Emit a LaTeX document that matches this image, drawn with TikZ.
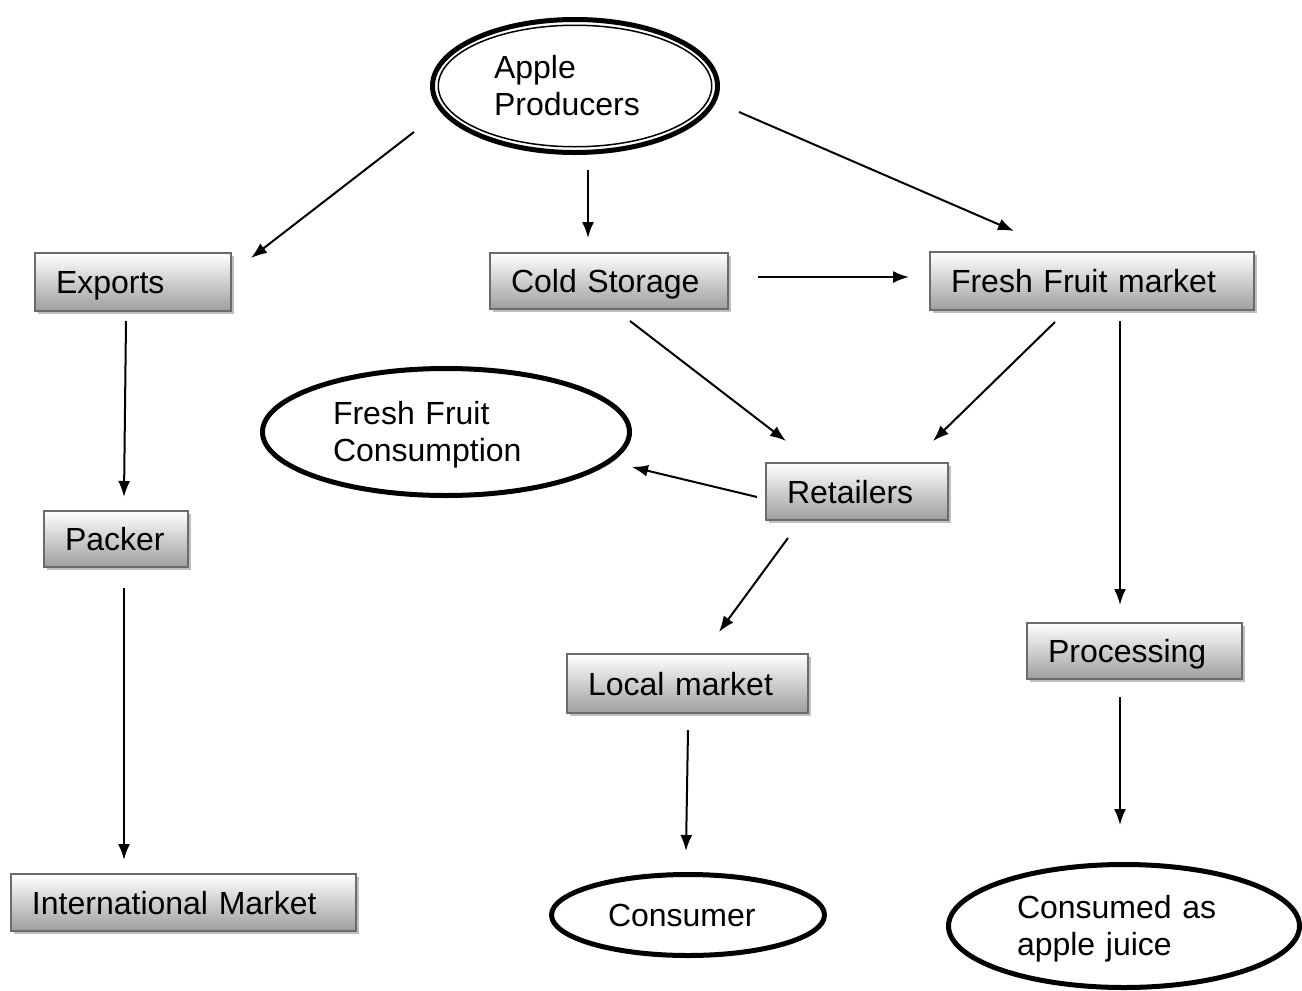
\documentclass[tikz,border=0pt]{standalone}
\usepackage{fontspec}
\setmainfont{Liberation Sans}
\usetikzlibrary{arrows.meta,shapes.geometric,shadows,calc}

\tikzset{
  stagebox/.style={
    rectangle, draw=black!58, line width=1pt,
    top color=white, bottom color=black!38,
    drop shadow={shadow xshift=1.6pt, shadow yshift=-1.6pt, fill=black!25, opacity=1},
    inner xsep=10.5pt, inner ysep=0pt, align=left,
    text height=11.5pt, text depth=0pt,
    font=\fontsize{16}{18.5}\selectfont},
  endpoint/.style={
    ellipse, draw=black, line width=2.5pt, fill=white,
    inner sep=0pt, align=left,
    font=\fontsize{16}{18.5}\selectfont},
  flow/.style={-{Latex[length=8pt,width=6pt]}, line width=1pt, black},
}

\begin{document}
\begin{tikzpicture}[x=0.5pt, y=-0.5pt]
  \useasboundingbox (0,0) rectangle (1302,991);

  % source of the chain
  \node[endpoint, minimum width=142.5pt, minimum height=66.5pt, text width=81pt]
    (apple) at (575,86) {Apple\\Producers};
  \node[ellipse, draw=black, line width=0.75pt, minimum width=136.75pt,
        minimum height=60.75pt, inner sep=0pt] (appleinner) at (575,86) {};

  % intermediate stages
  \node[stagebox, text width=77pt,    minimum height=29pt]   (exports) at (133,282)    {Exports};
  \node[stagebox, text width=98pt,    minimum height=28pt]   (cold)    at (609,281)    {Cold Storage};
  \node[stagebox, text width=141pt,   minimum height=29pt]   (fresh)   at (1092,281)   {Fresh Fruit market};
  \node[stagebox, text width=70pt,    minimum height=28.5pt] (retail)  at (857,491.5)  {Retailers};
  \node[stagebox, text width=51pt,    minimum height=28pt]   (packer)  at (116,539)    {Packer};
  \node[stagebox, text width=86.5pt,  minimum height=28pt]   (proc)    at (1134.5,651) {Processing};
  \node[stagebox, text width=99.5pt,  minimum height=29.5pt] (local)   at (687.5,683.5){Local market};
  \node[stagebox, text width=151.5pt, minimum height=28.5pt] (intl)    at (183.5,902.5){International Market};

  % final uses
  \node[endpoint, minimum width=183.5pt, minimum height=63.5pt, text width=113pt, text depth=18.9pt]
    (ffc) at (446,432) {Fresh Fruit\\Consumption};
  \node[endpoint, minimum width=136.5pt, minimum height=40.5pt, text width=80pt]
    (consumer) at (688,915) {Consumer};
  \node[endpoint, minimum width=175.5pt, minimum height=61.5pt, text width=107pt, text depth=18.9pt]
    (juice) at (1124,926) {Consumed as\\apple juice};

  % flows
  \draw[flow] ($(apple.center)+(-161,46)$)   -- ($(exports.north east)+(19,6)$);
  \draw[flow] ($(apple.center)+(13,84)$)     -- ($(cold.north)+(-21,-14)$);
  \draw[flow] ($(apple.center)+(164,26)$)    -- ($(fresh.north west)+(85,-20)$);
  \draw[flow] ($(cold.east)+(29,-4)$)        -- ($(fresh.west)+(-20,-4)$);
  \draw[flow] ($(exports.south)+(-7,9)$)     -- ($(packer.north)+(8,-13)$);
  \draw[flow] ($(packer.south)+(8,20)$)      -- ($(intl.north)+(-59.5,-13)$);
  \draw[flow] ($(cold.south)+(21,11)$)       -- ($(retail.north west)+(21,-21)$);
  \draw[flow] ($(fresh.south)+(-37,11)$)     -- ($(retail.north east)+(-16,-21)$);
  \draw[flow] ($(fresh.south)+(28,10)$)      -- ($(proc.north)+(-14.5,-17)$);
  \draw[flow] ($(retail.west)+(-8,5.5)$)     -- ($(ffc.center)+(186,35)$);
  \draw[flow] ($(retail.south)+(-69,17)$)    -- ($(local.north)+(31.5,-21)$);
  \draw[flow] ($(local.south)+(0.5,16)$)     -- ($(consumer.center)+(-2,-64)$);
  \draw[flow] ($(proc.south)+(-14.5,17)$)    -- ($(juice.center)+(-4,-101)$);
\end{tikzpicture}
\end{document}
